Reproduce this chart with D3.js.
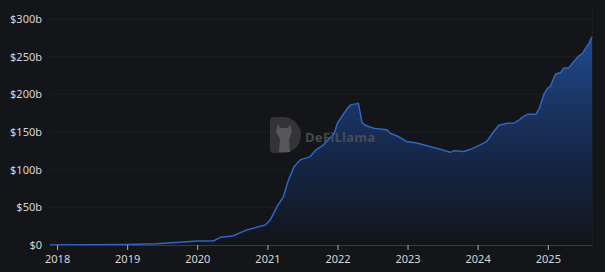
<!DOCTYPE html>
<html>
<head>
<meta charset="utf-8">
<script src="https://cdn.jsdelivr.net/npm/d3@7"></script>
<style>
  html, body { margin: 0; padding: 0; background: #141518; }
  #chart { width: 605px; height: 272px; }
  text { font-family: "Noto Sans", "Open Sans", sans-serif; }
</style>
</head>
<body>
<div id="chart"></div>
<script>
// TVL series (billions USD)
const dates = [
  '2017-11-25', '2018-06-01', '2019-01-01', '2019-06-01', '2019-10-05', '2020-01-01',
  '2020-03-25', '2020-05-01', '2020-07-05', '2020-09-15', '2020-12-20', '2021-01-15',
  '2021-02-20', '2021-03-25', '2021-04-20', '2021-05-20', '2021-06-20', '2021-08-10',
  '2021-09-10', '2021-10-20', '2021-12-15', '2022-01-01', '2022-02-20', '2022-03-10',
  '2022-04-20', '2022-05-08', '2022-05-25', '2022-07-08', '2022-08-10', '2022-09-15',
  '2022-10-05', '2022-11-05', '2023-01-01', '2023-02-03', '2023-03-10', '2023-05-01',
  '2023-06-20', '2023-08-10', '2023-08-30', '2023-10-20', '2023-11-25', '2024-01-15',
  '2024-02-20', '2024-03-18', '2024-04-20', '2024-06-03', '2024-07-10', '2024-08-05',
  '2024-08-23', '2024-09-17', '2024-10-30', '2024-11-17', '2024-12-13', '2024-12-30',
  '2025-01-15', '2025-02-03', '2025-02-10', '2025-03-10', '2025-03-25', '2025-04-20',
  '2025-05-08', '2025-06-03', '2025-07-01', '2025-07-16', '2025-08-04', '2025-08-19'
];
const tvl = [
  0, 0.2, 0.6, 1.5, 3.6, 5.3,
  5.3, 10.2, 12, 20, 26.5, 33,
  51, 64, 86, 104, 113, 117,
  126, 133, 148, 162, 181, 186,
  188, 163, 159, 155, 154, 153,
  148, 145, 137, 136, 134, 130.5,
  127, 123, 125, 124, 127, 133,
  138, 148, 159, 161.5, 162, 166,
  170, 173.5, 173.5, 181, 201, 208,
  211, 223, 227, 229, 235, 235,
  241, 249, 254.5, 261, 268, 276.5
];
const yTicks = [0, 50, 100, 150, 200, 250, 300];
const yearTicks = [2018, 2019, 2020, 2021, 2022, 2023, 2024, 2025];

const width = 605, height = 272;
const margin = { top: 19, right: 13, bottom: 27, left: 50 };

const parse = d3.timeParse('%Y-%m-%d');
const data = dates.map((d, i) => ({ date: parse(d), value: tvl[i] }));

const svg = d3.select('#chart')
  .append('svg')
  .attr('width', width)
  .attr('height', height);

const x = d3.scaleTime()
  .domain(d3.extent(data, d => d.date))
  .range([margin.left, width - margin.right]);

const y = d3.scaleLinear()
  .domain([0, 300])
  .range([height - margin.bottom, margin.top]);

// Gradient for the area
const defs = svg.append('defs');
const grad = defs.append('linearGradient')
  .attr('id', 'areaGrad')
  .attr('gradientUnits', 'userSpaceOnUse')
  .attr('x1', 0).attr('x2', 0)
  .attr('y1', y(300)).attr('y2', y(0));
grad.append('stop').attr('offset', '0%').attr('stop-color', '#20509c');
grad.append('stop').attr('offset', '38%').attr('stop-color', '#1a3462');
grad.append('stop').attr('offset', '67%').attr('stop-color', '#142441');
grad.append('stop').attr('offset', '100%').attr('stop-color', '#121519');

// Gridlines
svg.append('g')
  .selectAll('line')
  .data(yTicks.filter(d => d > 0))
  .enter().append('line')
  .attr('x1', margin.left)
  .attr('x2', width - margin.right)
  .attr('y1', d => y(d))
  .attr('y2', d => y(d))
  .attr('stroke', '#1d1e22')
  .attr('stroke-width', 1);

// Right border
svg.append('line')
  .attr('x1', width - margin.right + 0.5)
  .attr('x2', width - margin.right + 0.5)
  .attr('y1', margin.top - 10)
  .attr('y2', y(0))
  .attr('stroke', '#1c1d21');

// Area and line
const area = d3.area()
  .x(d => x(d.date))
  .y0(y(0))
  .y1(d => y(d.value));

const line = d3.line()
  .x(d => x(d.date))
  .y(d => y(d.value));

svg.append('path')
  .datum(data)
  .attr('d', area)
  .attr('fill', 'url(#areaGrad)');

svg.append('path')
  .datum(data)
  .attr('d', line)
  .attr('fill', 'none')
  .attr('stroke', '#2a66c8')
  .attr('stroke-width', 1.5)
  .attr('stroke-linejoin', 'round');

// Watermark (drawn over the series)
const wm = svg.append('g');
wm.append('path')
  .attr('d', 'M270,121 Q270,117 274,117 L283,117 A18,18 0 0 1 283,153 L274,153 Q270,153 270,149 Z')
  .attr('fill', '#3a3a3c')
  .attr('opacity', 0.85);
wm.append('path')
  .attr('d', 'M278,124 L280,128 L288,128 L290,124 L292,132 L289,139 L290,152 L279,152 L280,139 L276,132 Z')
  .attr('fill', '#5e5e60')
  .attr('opacity', 0.85);
wm.append('text')
  .attr('x', 305)
  .attr('y', 142)
  .attr('fill', '#4e4f53')
  .attr('opacity', 0.9)
  .style('font-size', '13px')
  .style('font-weight', 'bold')
  .style('letter-spacing', '0.3px')
  .text('DeFiLlama');

// X axis
const xAxis = svg.append('g')
  .attr('transform', `translate(0,${y(0)})`)
  .call(d3.axisBottom(x)
    .tickValues(yearTicks.map(yr => new Date(yr, 0, 1)))
    .tickFormat(d3.timeFormat('%Y'))
    .tickSize(5)
    .tickSizeOuter(0));
xAxis.select('.domain').attr('stroke', '#3a3b3f');
xAxis.selectAll('.tick line').attr('stroke', '#aaaaaa');
xAxis.selectAll('.tick text')
  .attr('fill', '#d6d6d6')
  .attr('dy', '0.9em')
  .style('font-size', '11px');

// Y axis labels
svg.append('g')
  .selectAll('text')
  .data(yTicks)
  .enter().append('text')
  .attr('x', 42)
  .attr('y', d => y(d))
  .attr('dy', '0.35em')
  .attr('text-anchor', 'end')
  .attr('fill', '#d6d6d6')
  .style('font-size', '11px')
  .text(d => d === 0 ? '$0' : `$${d}b`);
</script>
</body>
</html>
